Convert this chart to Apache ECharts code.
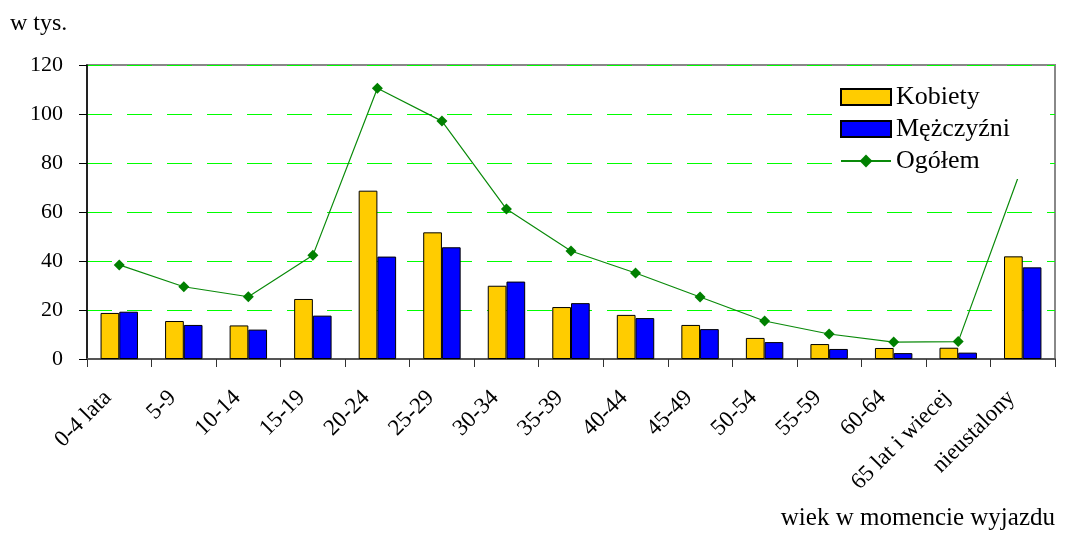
<!DOCTYPE html>
<html>
<head>
<meta charset="utf-8">
<script src="https://cdn.jsdelivr.net/npm/echarts@6/dist/echarts.min.js"></script>
<style>html,body{margin:0;padding:0;background:#fff}#c{width:1067px;height:534px}</style>
</head>
<body>
<div id="c"></div>
<script>
const categories = ['0-4 lata','5-9','10-14','15-19','20-24','25-29','30-34','35-39','40-44','45-49','50-54','55-59','60-64','65 lat i wiecej','nieustalony'];
const kobiety = [18.8, 15.5, 13.7, 24.5, 68.7, 51.7, 29.9, 21.2, 18.0, 13.9, 8.6, 6.1, 4.5, 4.6, 41.9];
const mezczyzni = [19.3, 13.9, 12.0, 17.7, 41.8, 45.6, 31.6, 22.8, 16.7, 12.2, 6.9, 4.1, 2.4, 2.6, 37.4];
const ogolem = [38.4, 29.5, 25.4, 42.3, 110.5, 97.1, 61.2, 44.1, 35.1, 25.3, 15.5, 10.2, 6.9, 7.1, 79.3];
const yTicks = [0, 20, 40, 60, 80, 100, 120];

const FONT = 'Liberation Serif';
const chart = echarts.init(document.getElementById('c'), null, {renderer: 'canvas'});
chart.setOption({
  backgroundColor: '#fff',
  animation: false,
  textStyle: {fontFamily: FONT},
  grid: {left: 87, right: 12, top: 65, bottom: 175, show: true, borderColor: '#888', borderWidth: 2, backgroundColor: 'transparent'},
  legend: {
    orient: 'vertical', left: 835, top: 79,
    padding: [5, 40, 5, 5],
    backgroundColor: '#fff',
    itemWidth: 50, itemHeight: 16, itemGap: 6,
    textStyle: {fontFamily: FONT, fontSize: 26, color: '#000'},
    data: [{name: 'Kobiety', icon: 'rect'}, {name: 'Mężczyźni', icon: 'rect'}, {name: 'Ogółem'}]
  },
  graphic: [
    {type: 'text', left: 10, top: 12, style: {text: 'w tys.', font: '24px "Liberation Serif"', fill: '#000'}},
    {type: 'text', right: 12, top: 506, style: {text: 'wiek w momencie wyjazdu', font: '25px "Liberation Serif"', fill: '#000'}}
  ],
  xAxis: {
    type: 'category', data: categories,
    axisLine: {lineStyle: {color: '#555', width: 2}},
    axisTick: {show: true, length: 8, lineStyle: {color: '#333'}},
    axisLabel: {rotate: 45, fontFamily: FONT, fontSize: 23, color: '#000', interval: 0, margin: 24, padding: [0, 16, 0, 0]}
  },
  yAxis: {
    type: 'value', min: yTicks[0], max: yTicks[yTicks.length - 1], interval: 20,
    axisLine: {show: true, lineStyle: {color: '#000', width: 1.5}},
    axisTick: {show: true, length: 8, lineStyle: {color: '#000'}},
    axisLabel: {fontFamily: FONT, fontSize: 22, color: '#000', margin: 24},
    splitLine: {show: true, lineStyle: {color: '#00ff00', type: [25, 15], width: 1}}
  },
  series: [
    {name: 'Kobiety', type: 'bar', data: kobiety, barWidth: '29%', barGap: '0%',
     itemStyle: {color: '#FFCC00', borderColor: '#000', borderWidth: 1}},
    {name: 'Mężczyźni', type: 'bar', data: mezczyzni, barWidth: '29%', barGap: '0%',
     itemStyle: {color: '#0000FF', borderColor: '#000', borderWidth: 1}},
    {name: 'Ogółem', type: 'line', data: ogolem, symbol: 'diamond', symbolSize: 11,
     lineStyle: {color: '#0a8a0a', width: 1.2},
     itemStyle: {color: '#008000'}, z: 3}
  ]
});
</script>
</body>
</html>
